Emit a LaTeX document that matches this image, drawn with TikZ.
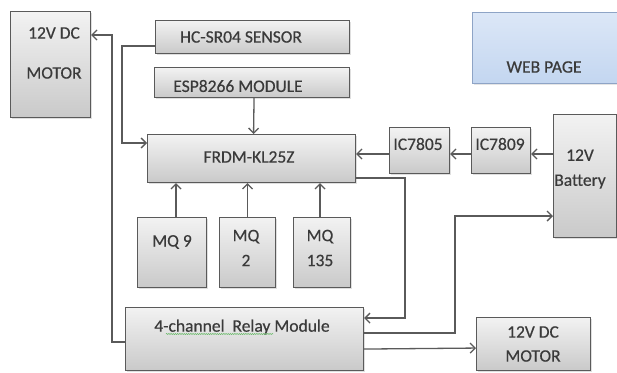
\documentclass[tikz,border=0pt]{standalone}
\usepackage{fontspec}
\setmainfont{Carlito}
\newfontfamily\boxfont{Carlito}[FakeBold=0.45]
\usetikzlibrary{arrows.meta,shadows,calc,decorations.pathmorphing}
\definecolor{boxline}{HTML}{5A5A5A}
\definecolor{txtc}{HTML}{3A3A3A}
\definecolor{webline}{HTML}{8EA4C6}
\definecolor{webtop}{HTML}{DCE7F7}
\definecolor{webbot}{HTML}{C3D6F0}
\tikzset{
  box/.style={draw=boxline, line width=1.1pt, top color=gray!10, bottom color=gray!42,
    drop shadow={shadow xshift=1.2pt, shadow yshift=-1.2pt, opacity=0.25},
    anchor=north west, inner sep=0pt},
  webbox/.style={draw=webline, line width=1pt, top color=webtop, bottom color=webbot,
    drop shadow={shadow xshift=1.2pt, shadow yshift=-1.2pt, opacity=0.2},
    anchor=north west, inner sep=0pt},
  txt/.style={text=txtc, font=\boxfont\fontsize{17.5}{19}\selectfont, inner sep=0pt, align=center},
  arr/.style={draw=boxline, line width=1.3pt, -{Straight Barb[length=5pt,width=10pt]}},
  squig/.style={draw=green!55!black!60, line width=0.5pt, decorate,
    decoration={snake, amplitude=0.6pt, segment length=2.2pt}}
}
\begin{document}
\begin{tikzpicture}[x=1pt,y=-1pt]
\useasboundingbox[fill=white] (0,0) rectangle (617,372);
% boxes
\node[box, minimum width=80pt, minimum height=106pt] (m1) at (10,11) {};
\node[txt] (m1a) at (54,33) {12V DC};
\node[txt] (m1b) at (54,73) {MOTOR};
\node[box, minimum width=194pt, minimum height=33pt] (hc) at (155,20) {};
\node[txt] (hct) at (241,37) {HC-SR04 SENSOR};
\node[box, minimum width=195pt, minimum height=30pt] (esp) at (154,67) {};
\node[txt] (espt) at (238,86) {ESP8266 MODULE};
\node[box, minimum width=208pt, minimum height=48pt] (frdm) at (147,134) {};
\node[txt] (frdmt) at (249,157) {FRDM-KL25Z};
\node[webbox, minimum width=145pt, minimum height=71pt] (web) at (472,12) {};
\node[txt] (webt) at (544,67) {WEB PAGE};
\node[box, minimum width=60pt, minimum height=46pt] (ic5) at (389,127) {};
\node[txt] (ic5t) at (418,144) {IC7805};
\node[box, minimum width=59pt, minimum height=46pt] (ic9) at (471,127) {};
\node[txt] (ic9t) at (500,144) {IC7809};
\node[box, minimum width=63pt, minimum height=123pt] (bat) at (553,114) {};
\node[txt] (batt) at (580,169) {12V\\[6pt]Battery};
\node[box, minimum width=69pt, minimum height=70pt] (mq9) at (137,217) {};
\node[txt] (mq9t) at (172,242) {MQ 9};
\node[box, minimum width=56pt, minimum height=70pt] (mq2) at (219,217) {};
\node[txt] (mq2t) at (246,248) {MQ\\[6pt]2};
\node[box, minimum width=57pt, minimum height=70pt] (mq135) at (293,217) {};
\node[txt] (mq135t) at (320,248) {MQ\\[6pt]135};
\node[box, minimum width=238pt, minimum height=63pt] (relay) at (125,307) {};
\node[txt] (relayt) at (242,327) {4-channel\ \ Relay Module};
\node[box, minimum width=114pt, minimum height=53pt] (m2) at (476,317) {};
\node[txt] (m2a) at (533,332) {12V DC};
\node[txt] (m2b) at (533,356) {MOTOR};
\draw[squig] (166,334) -- (273,334);
% helper coordinates
\coordinate (pw) at (0,154);
\coordinate (hcx) at (122,143);
\coordinate (mx) at (112,35);
\coordinate (fx) at (405,178);
\coordinate (bx) at (455,333);
% connectors
\draw[arr] ($(hc.west)+(0,9)$) -| (hcx) -- (frdm.west |- hcx);
\draw[arr] ($(esp.south)+(2,0)$) -- ($(frdm.north)+(2,0)$);
\draw[arr] ($(relay.west)+(0,3)$) -| (mx) -- (m1.east |- mx);
\draw[arr] ($(mq9.north)+(4,0)$) -- ($(mq9.north |- frdm.south)+(4,0)$);
\draw[arr] (mq2.north) -- (mq2.north |- frdm.south);
\draw[arr] ($(mq135.north)+(-2,0)$) -- ($(mq135.north |- frdm.south)+(-2,0)$);
\draw[arr] (bat.west |- pw) -- (ic9.east |- pw);
\draw[arr] (ic9.west |- pw) -- (ic5.east |- pw);
\draw[arr] (ic5.west |- pw) -- (frdm.east |- pw);
\draw[arr] (frdm.east |- fx) -- (fx) |- ($(relay.east)+(0,-21)$);
\draw[arr] (relay.east |- bx) -- (bx) |- ($(bat.west)+(0,40)$);
\draw[arr] ($(relay.east)+(0,10)$) -- ($(m2.west)+(0,4)$);
\end{tikzpicture}
\end{document}
